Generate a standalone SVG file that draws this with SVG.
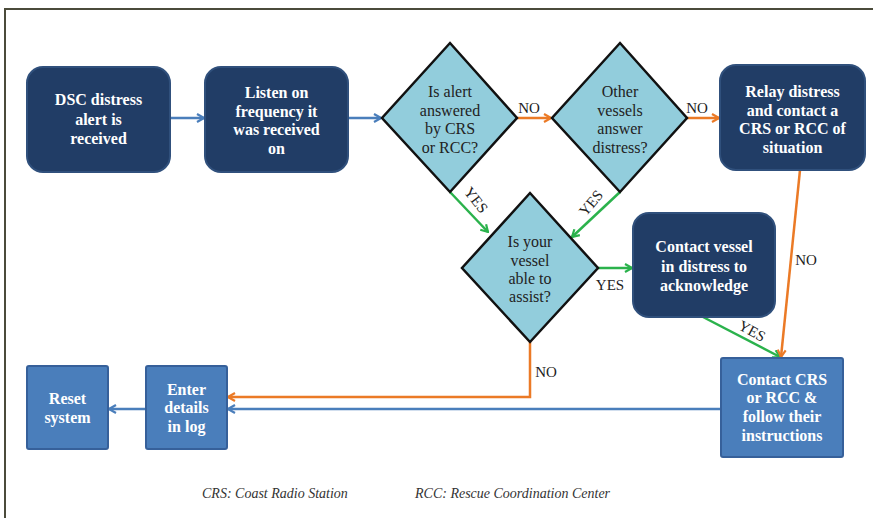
<svg xmlns="http://www.w3.org/2000/svg" width="873" height="518" viewBox="0 0 873 518">
<defs>
<style>
.dark{fill:#213d66;stroke:#30507c;stroke-width:2}
.dia{fill:#92cddc;stroke:#111;stroke-width:2.5}
.mid{fill:#4a7ebb;stroke:#36609a;stroke-width:2}
.bt{font-family:'Liberation Serif','Times New Roman',serif;font-weight:bold;font-size:16px;fill:#fff;text-anchor:middle}
.dt{font-family:'Liberation Serif','Times New Roman',serif;font-size:16px;fill:#222;text-anchor:middle}
.lb{font-family:'Liberation Serif','Times New Roman',serif;font-size:15px;fill:#222;text-anchor:middle}
.ft{font-family:'Liberation Serif','Times New Roman',serif;font-style:italic;font-size:14px;fill:#333}
.cb{fill:none;stroke:#4a7ebb;stroke-width:2.5}
.co{fill:none;stroke:#eb7a26;stroke-width:2.5}
.cg{fill:none;stroke:#2bb24c;stroke-width:2.5}
</style>
<marker id="ab" viewBox="0 0 10 10" refX="9" refY="5" markerWidth="10" markerHeight="10" markerUnits="userSpaceOnUse" orient="auto"><path d="M2,1 L9,5 L2,9" fill="none" stroke="#4a7ebb" stroke-width="2.2"/></marker>
<marker id="ao" viewBox="0 0 10 10" refX="9" refY="5" markerWidth="10" markerHeight="10" markerUnits="userSpaceOnUse" orient="auto"><path d="M2,1 L9,5 L2,9" fill="none" stroke="#eb7a26" stroke-width="2.2"/></marker>
<marker id="ag" viewBox="0 0 10 10" refX="9" refY="5" markerWidth="10" markerHeight="10" markerUnits="userSpaceOnUse" orient="auto"><path d="M2,1 L9,5 L2,9" fill="none" stroke="#2bb24c" stroke-width="2.2"/></marker>
</defs>
<rect x="0" y="0" width="873" height="518" fill="#fff"/>
<rect x="5" y="9" width="880" height="520" fill="none" stroke="#4b4b3b" stroke-width="2"/>

<g id="connectors">
<path class="cb" d="M170,118 L204,118" marker-end="url(#ab)"/>
<path class="cb" d="M348,118 L381,118" marker-end="url(#ab)"/>
<path class="co" d="M517,118 L551,118" marker-end="url(#ao)"/>
<text class="lb" x="529" y="113">NO</text>
<path class="co" d="M687,118 L719,118" marker-end="url(#ao)"/>
<text class="lb" x="697" y="113">NO</text>
<path class="cg" d="M450,192 L488,232" marker-end="url(#ag)"/>
<text class="lb" transform="translate(476,200) rotate(52)" y="5">YES</text>
<path class="cg" d="M620,192 L572,237" marker-end="url(#ag)"/>
<text class="lb" transform="translate(591,203) rotate(-50)" y="5">YES</text>
<path class="cg" d="M598,268 L632,268" marker-end="url(#ag)"/>
<text class="lb" x="610" y="290">YES</text>
<path class="cg" d="M703,317 L780,357" marker-end="url(#ag)"/>
<text class="lb" transform="translate(752,331) rotate(28)" y="5">YES</text>
<path class="co" d="M800,170 L781,357" marker-end="url(#ao)"/>
<text class="lb" x="806" y="265">NO</text>
<path class="co" d="M530,342 L530,397 L228,397" marker-end="url(#ao)"/>
<text class="lb" x="546" y="377">NO</text>
<path class="cb" d="M721,409 L228,409" marker-end="url(#ab)"/>
<path class="cb" d="M146,409 L109,409" marker-end="url(#ab)"/>
</g>

<g id="n1">
<rect class="dark" x="27" y="67" width="143" height="105" rx="16"/>
<text class="bt" x="98.5" y="105">DSC distress</text>
<text class="bt" x="98.5" y="125">alert is</text>
<text class="bt" x="98.5" y="144">received</text>
</g>
<g id="n2">
<rect class="dark" x="205" y="67" width="143" height="105" rx="16"/>
<text class="bt" x="276.5" y="98">Listen on</text>
<text class="bt" x="276.5" y="117">frequency it</text>
<text class="bt" x="276.5" y="135">was received</text>
<text class="bt" x="276.5" y="154">on</text>
</g>
<g id="d1">
<polygon class="dia" points="450,43 517,118 450,192 382,118"/>
<text class="dt" x="450" y="97">Is alert</text>
<text class="dt" x="450" y="116">answered</text>
<text class="dt" x="450" y="134">by CRS</text>
<text class="dt" x="450" y="153">or RCC?</text>
</g>
<g id="d2">
<polygon class="dia" points="620,43 687,118 620,192 552,118"/>
<text class="dt" x="620" y="97">Other</text>
<text class="dt" x="620" y="116">vessels</text>
<text class="dt" x="620" y="134">answer</text>
<text class="dt" x="620" y="153">distress?</text>
</g>
<g id="n3">
<rect class="dark" x="720" y="65" width="145" height="105" rx="16"/>
<text class="bt" x="792.5" y="97">Relay distress</text>
<text class="bt" x="792.5" y="116">and contact a</text>
<text class="bt" x="792.5" y="134">CRS or RCC of</text>
<text class="bt" x="792.5" y="153">situation</text>
</g>
<g id="d3">
<polygon class="dia" points="530,193 598,268 530,342 462,268"/>
<text class="dt" x="530" y="247">Is your</text>
<text class="dt" x="530" y="266">vessel</text>
<text class="dt" x="530" y="284">able to</text>
<text class="dt" x="530" y="302">assist?</text>
</g>
<g id="n4">
<rect class="dark" x="633" y="213" width="142" height="104" rx="16"/>
<text class="bt" x="704" y="252">Contact vessel</text>
<text class="bt" x="704" y="272">in distress  to</text>
<text class="bt" x="704" y="291">acknowledge</text>
</g>
<g id="n5">
<rect class="mid" x="721" y="358" width="122" height="99" rx="2"/>
<text class="bt" x="782" y="385">Contact CRS</text>
<text class="bt" x="782" y="403">or RCC &amp;</text>
<text class="bt" x="782" y="422">follow their</text>
<text class="bt" x="782" y="441">instructions</text>
</g>
<g id="n6">
<rect class="mid" x="146" y="366" width="81" height="83" rx="2"/>
<text class="bt" x="186.5" y="395">Enter</text>
<text class="bt" x="186.5" y="413">details</text>
<text class="bt" x="186.5" y="432">in log</text>
</g>
<g id="n7">
<rect class="mid" x="27" y="366" width="81" height="83" rx="2"/>
<text class="bt" x="67.5" y="404">Reset</text>
<text class="bt" x="67.5" y="423">system</text>
</g>
<text class="ft" x="202" y="498">CRS: Coast Radio Station</text>
<text class="ft" x="415" y="498">RCC: Rescue Coordination Center</text>
</svg>
